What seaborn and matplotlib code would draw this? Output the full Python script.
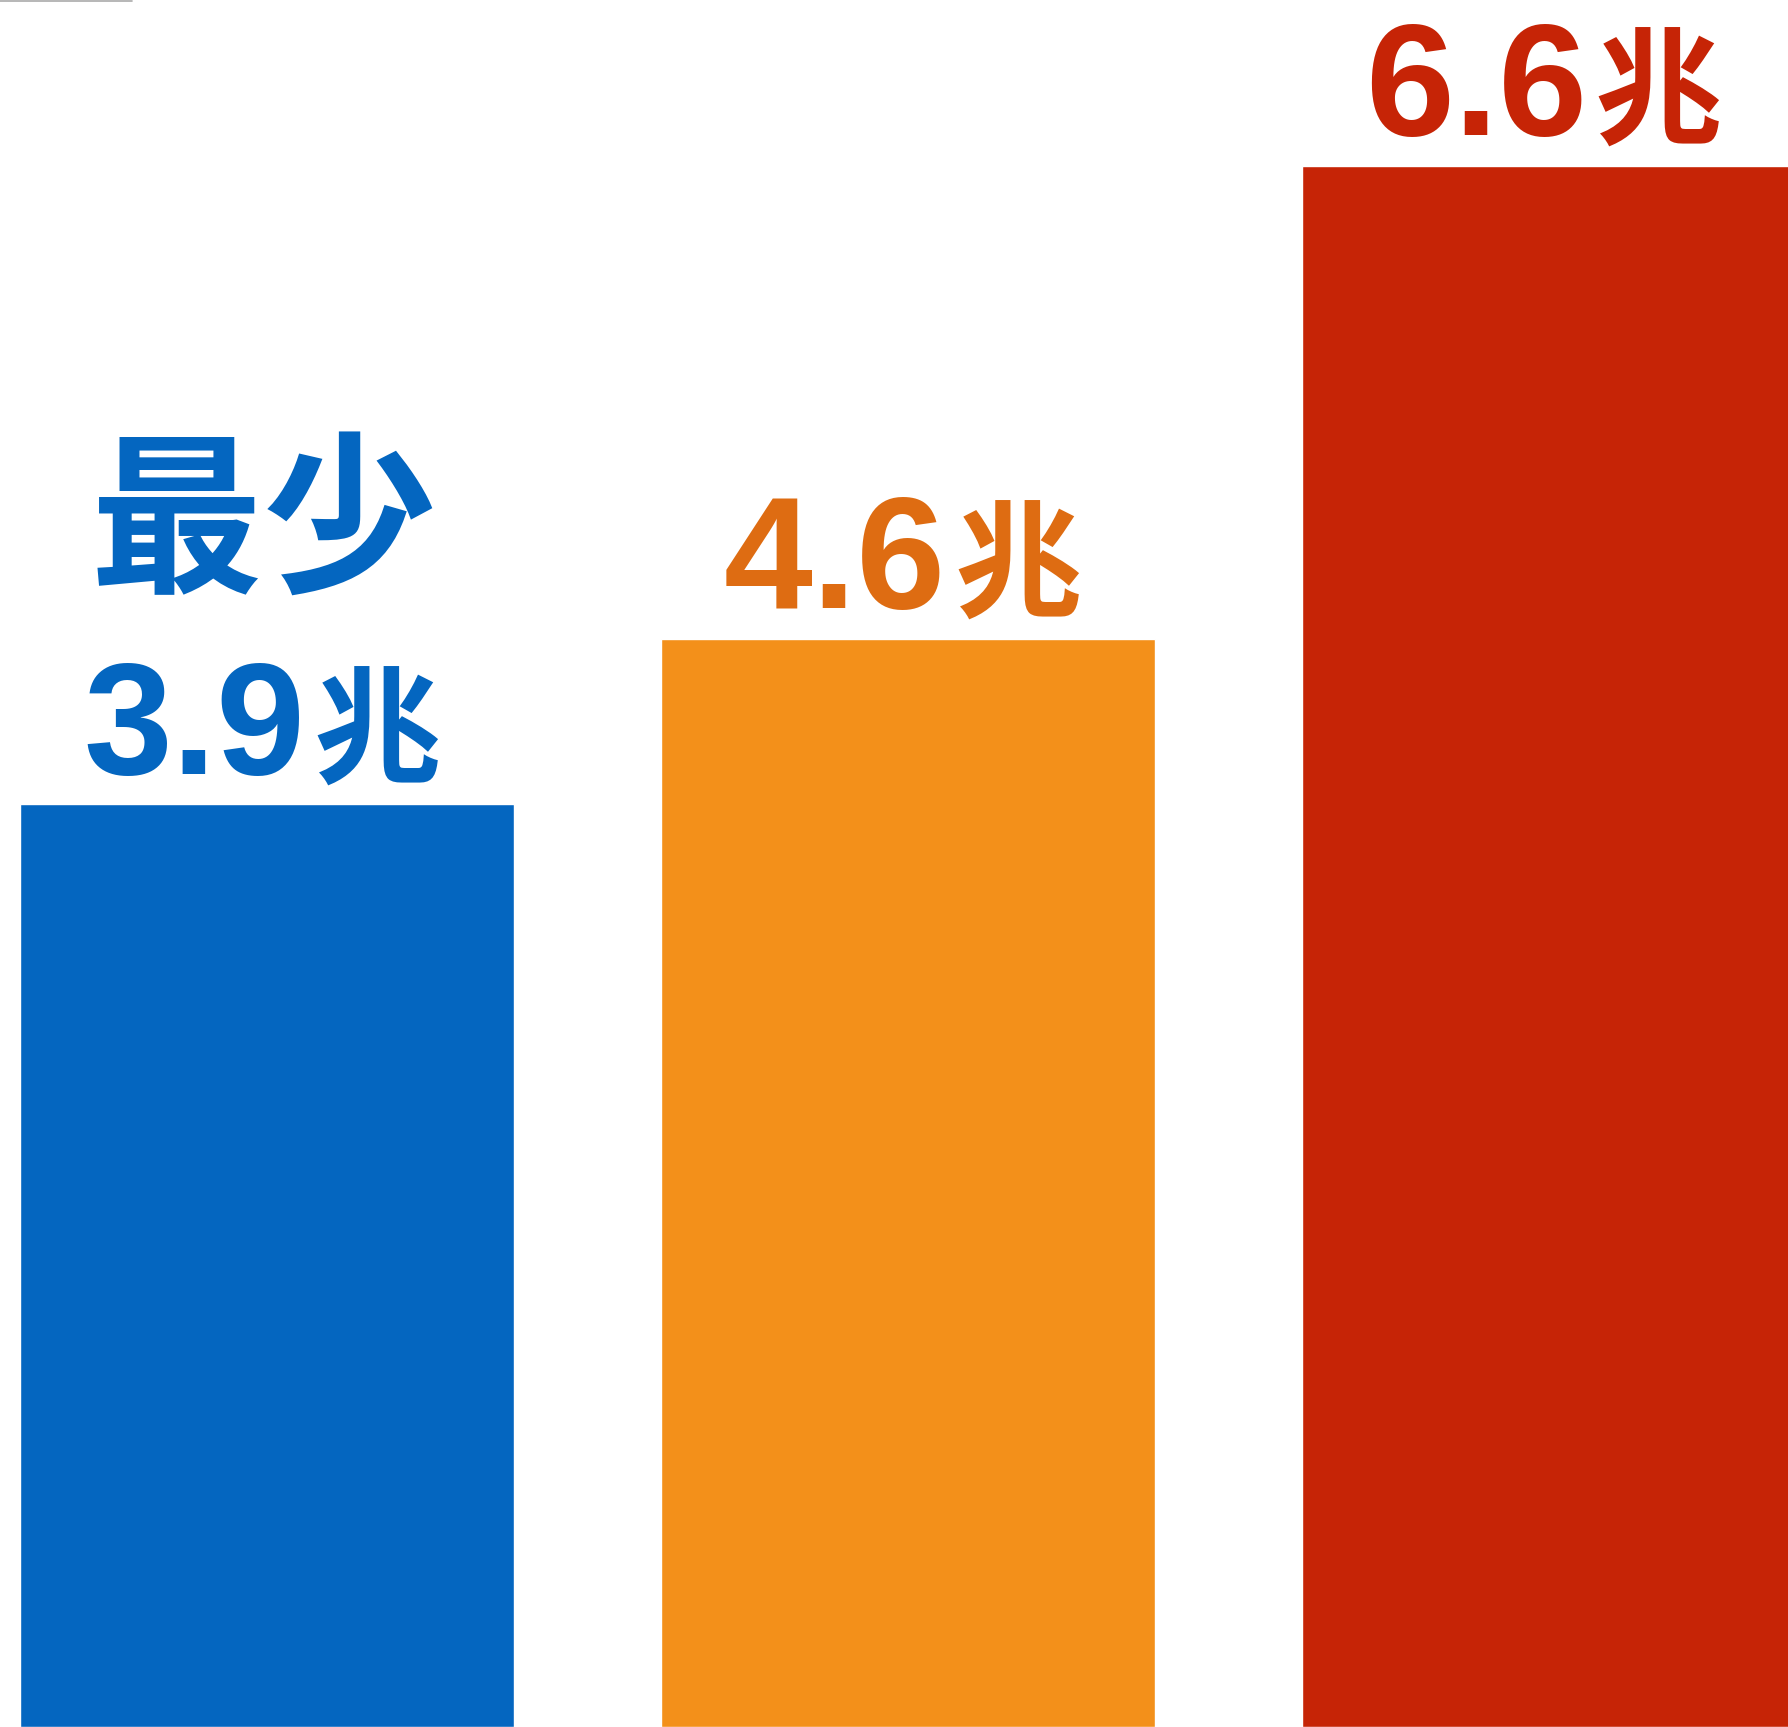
import matplotlib
matplotlib.use("Agg")
import matplotlib.pyplot as plt
from matplotlib.lines import Line2D
from matplotlib.transforms import offset_copy
import pandas as pd
import seaborn as sns

# values (兆)
groups = ["A", "B", "C"]
values = [3.9, 4.6, 6.6]
numbers = ["3.9", "4.6", "6.6"]
unit = "兆"
bar_colors = ["#0466C0", "#F3901A", "#C62406"]
text_colors = ["#0466C0", "#DE6C12", "#C62406"]
note = "最少"

sns.set_theme(style="white")
plt.rcParams["font.family"] = ["Noto Sans CJK JP", "DejaVu Sans"]

df = pd.DataFrame({"group": groups, "value": values})

fig = plt.figure(figsize=(17.88, 17.27), dpi=100)
ax = fig.add_axes([0, 0, 1, 1])
sns.barplot(data=df, x="group", y="value", hue="group", palette=bar_colors,
            width=0.77, legend=False, saturation=1, ax=ax)

ax.set_xlim(-0.4165, 2.373)
ax.set_ylim(0, 7.30)
ax.axis("off")

# number in a latin font, unit in the CJK font, joined at the bar centre
num_tr = offset_copy(ax.transData, fig=fig, x=38, y=0, units="dots")
unit_tr = offset_copy(ax.transData, fig=fig, x=46, y=0, units="dots")
for i, (v, num) in enumerate(zip(values, numbers)):
    ax.text(i, v + 0.13, num, ha="right", va="baseline", fontsize=115,
            fontweight="bold", color=text_colors[i], transform=num_tr,
            family=["Liberation Sans", "DejaVu Sans"])
    ax.text(i, v + 0.13, unit, ha="left", va="baseline", fontsize=92,
            fontweight="bold", color=text_colors[i], transform=unit_tr)

note_tr = offset_copy(ax.transData, fig=fig, x=-4, y=0, units="dots")
ax.text(0, values[0] + 0.955, note, ha="center", va="baseline", fontsize=125,
        fontweight="bold", color=text_colors[0], transform=note_tr)

# thin gray stub at the top-left corner
fig.add_artist(Line2D([0, 0.074], [0.9996, 0.9996], transform=fig.transFigure,
                      color="#aaaaaa", lw=1.2))

fig.savefig("out.png", dpi=100, facecolor="white")
